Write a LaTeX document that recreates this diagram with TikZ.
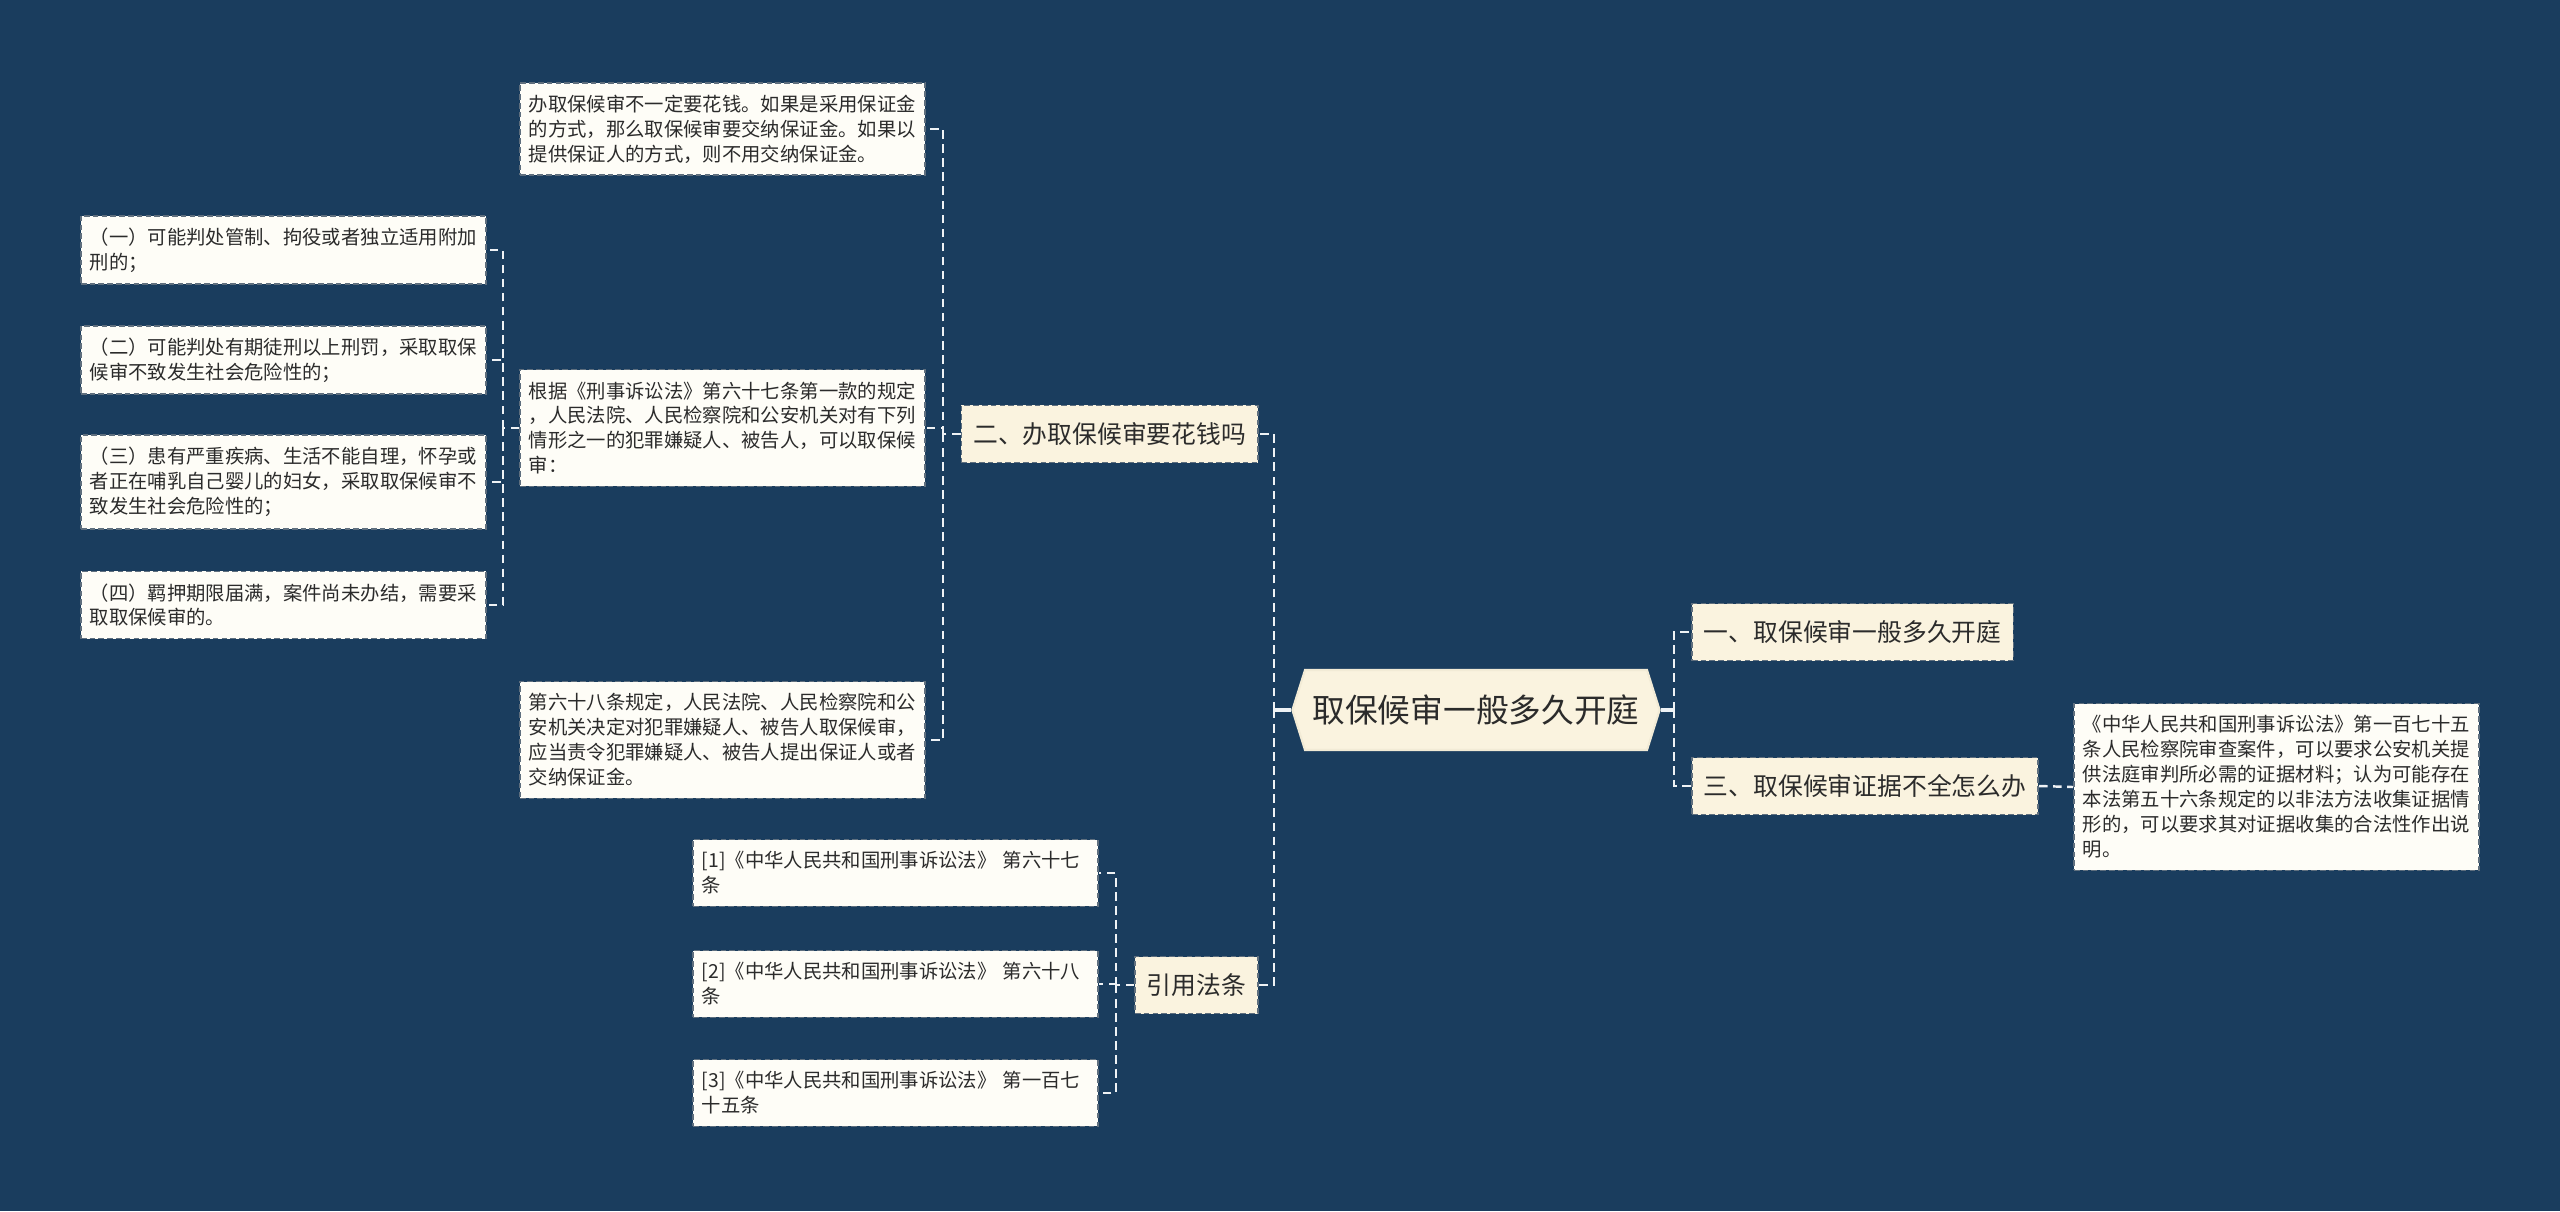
\documentclass[tikz,border=0pt]{standalone}
\usepackage{fontspec}
\setmainfont{Noto Sans CJK SC}
\usepackage{tikz}
\usetikzlibrary{positioning, shapes.symbols}
\definecolor{bgNavy}{HTML}{1A3D5E}
\definecolor{creamFill}{HTML}{FAF3DF}
\definecolor{paperFill}{HTML}{FEFDF7}
\definecolor{boxLine}{HTML}{5F6F7E}
\definecolor{rootLine}{HTML}{F2EBD6}
\definecolor{linkWhite}{HTML}{EEF2F5}
\definecolor{inkDark}{HTML}{2B2B2B}

\begin{document}
\begin{tikzpicture}[
  x=0.01cm, y=-0.01cm,
  font=\fontsize{5.5}{7.1}\selectfont,
  rootbox/.style={signal, signal to=west and east, signal pointer angle=145,
    draw=rootLine, line width=0.6pt, fill=creamFill, text=inkDark,
    minimum width=3.67cm, minimum height=0.80cm, inner sep=0pt,
    font=\fontsize{9.3}{11}\selectfont},
  topicbox/.style={draw=boxLine, dash pattern=on 1.6pt off 0.9pt, line width=0.5pt,
    fill=creamFill, text=inkDark, minimum height=0.57cm,
    inner xsep=0.12cm, inner ysep=0pt, font=\fontsize{7.05}{8.5}\selectfont},
  notebox/.style={draw=boxLine, dash pattern=on 1.6pt off 0.9pt, line width=0.5pt,
    fill=paperFill, text=inkDark, text width=3.87cm, align=left,
    inner xsep=0.09cm, inner ysep=0.12cm},
  link/.style={draw=linkWhite, line width=0.7pt, dash pattern=on 2.4pt off 1.6pt},
  rootlink/.style={draw=linkWhite, line width=0.9pt}
]

\useasboundingbox (0,0) rectangle (2560,1211);
\fill[bgNavy] (0,0) rectangle (2560,1211);

% centre
\node[rootbox] (root) at (1476,710) {取保候审一般多久开庭};

% right side
\node[topicbox, anchor=west] (howlong) at (1691,632) {一、取保候审一般多久开庭};
\node[topicbox, anchor=west] (evidence) at (1691,786) {三、取保候审证据不全怎么办};
\node[notebox, anchor=west] (art175) at (2073,787)
{《中华人民共和国刑事诉讼法》第一百七十五\\
条人民检察院审查案件，可以要求公安机关提\\
供法庭审判所必需的证据材料；认为可能存在\\
本法第五十六条规定的以非法方法收集证据情\\
形的，可以要求其对证据收集的合法性作出说\\
明。};

% left side
\node[topicbox, anchor=east] (cost) at (1259,434) {二、办取保候审要花钱吗};
\node[topicbox, anchor=east] (cite) at (1259,985) {引用法条};

\node[notebox, anchor=east] (noteMoney) at (926,129)
{办取保候审不一定要花钱。如果是采用保证金\\
的方式，那么取保候审要交纳保证金。如果以\\
提供保证人的方式，则不用交纳保证金。};

\node[notebox, anchor=east] (noteCases) at (926,428)
{根据《刑事诉讼法》第六十七条第一款的规定\\
，人民法院、人民检察院和公安机关对有下列\\
情形之一的犯罪嫌疑人、被告人，可以取保候\\
审：};

\node[notebox, anchor=east] (noteBail) at (926,740)
{第六十八条规定，人民法院、人民检察院和公\\
安机关决定对犯罪嫌疑人、被告人取保候审，\\
应当责令犯罪嫌疑人、被告人提出保证人或者\\
交纳保证金。};

\node[notebox, anchor=east] (caseOne) at (487,250)
{（一）可能判处管制、拘役或者独立适用附加\\
刑的；};
\node[notebox, anchor=east] (caseTwo) at (487,360)
{（二）可能判处有期徒刑以上刑罚，采取取保\\
候审不致发生社会危险性的；};
\node[notebox, anchor=east] (caseThree) at (487,482)
{（三）患有严重疾病、生活不能自理，怀孕或\\
者正在哺乳自己婴儿的妇女，采取取保候审不\\
致发生社会危险性的；};
\node[notebox, anchor=east] (caseFour) at (487,605)
{（四）羁押期限届满，案件尚未办结，需要采\\
取取保候审的。};

\node[notebox, anchor=east] (refOne) at (1099,873)
{[1]《中华人民共和国刑事诉讼法》 第六十七\\
条};
\node[notebox, anchor=east] (refTwo) at (1099,984)
{[2]《中华人民共和国刑事诉讼法》 第六十八\\
条};
\node[notebox, anchor=east] (refThree) at (1099,1093)
{[3]《中华人民共和国刑事诉讼法》 第一百七\\
十五条};

% junctions
\coordinate (jLeft) at (1274,710);
\coordinate (jRight) at (1674,710);
\coordinate (jCost) at (943,434);
\coordinate (jCases) at (503,428);
\coordinate (jCite) at (1116,985);

% connectors
\draw[rootlink] (root.west) -- (jLeft);
\draw[link] (jLeft) |- (cost.east);
\draw[link] (jLeft) |- (cite.east);

\draw[rootlink] (root.east) -- (jRight);
\draw[link] (jRight) |- (howlong.west);
\draw[link] (jRight) |- (evidence.west);
\draw[link] (evidence.east) -- (art175.west);

\draw[link] (cost.west) -- (jCost);
\draw[link] (jCost) |- (noteMoney.east);
\draw[link] (jCost) |- (noteCases.east);
\draw[link] (jCost) |- (noteBail.east);

\draw[link] (noteCases.west) -- (jCases);
\draw[link] (jCases) |- (caseOne.east);
\draw[link] (jCases) |- (caseTwo.east);
\draw[link] (jCases) |- (caseThree.east);
\draw[link] (jCases) |- (caseFour.east);

\draw[link] (cite.west) -- (jCite);
\draw[link] (jCite) |- (refOne.east);
\draw[link] (jCite) |- (refTwo.east);
\draw[link] (jCite) |- (refThree.east);

\end{tikzpicture}
\end{document}
